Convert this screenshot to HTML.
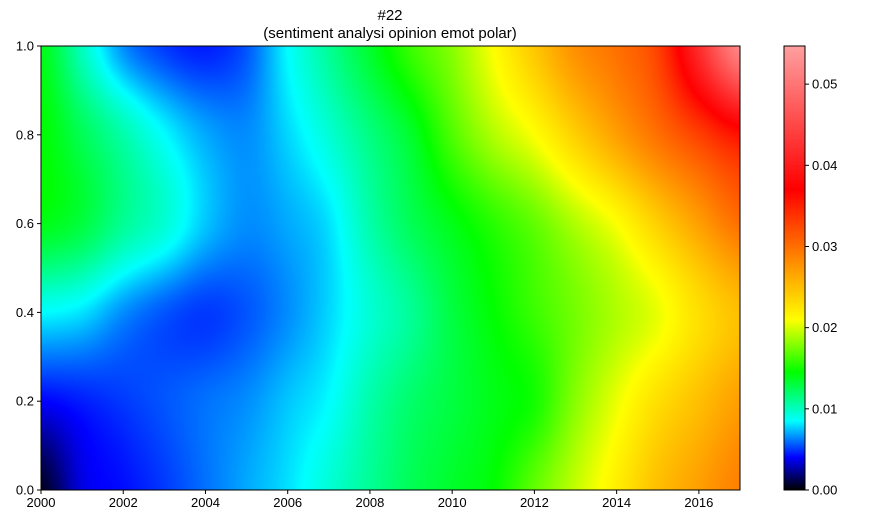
<!DOCTYPE html>
<html><head><meta charset="utf-8"><style>
body{margin:0;background:#fff;font-family:"Liberation Sans",sans-serif}
#wrap{position:relative;width:869px;height:527px}
canvas{position:absolute}
svg{position:absolute;left:0;top:0}
text{font-family:"Liberation Sans",sans-serif;font-size:13px;fill:#000}
</style></head><body>
<div id="wrap">
<canvas id="hm" width="699" height="444" style="left:41px;top:46px"></canvas>
<canvas id="cb" width="21" height="444" style="left:784px;top:46px"></canvas>
<svg id="ov" width="869" height="527"></svg>
</div>
<script>
const years=[2000,2001,2002,2003,2004,2005,2006,2007,2008,2009,2010,2011,2012,2013,2014,2015,2016,2017];
const yLevels=[1.0,0.8,0.6,0.4,0.2,0.0];
const row10=[0.014,0.010,0.0065,0.005,0.0045,0.0055,0.0085,0.011,0.0135,0.016,0.018,0.021,0.0245,0.028,0.030,0.033,0.042,0.052];
const row08=[0.0145,0.0125,0.0105,0.0085,0.007,0.0065,0.0078,0.0095,0.0115,0.0135,0.0165,0.019,0.021,0.024,0.027,0.030,0.033,0.036];
const row06=[0.014,0.013,0.011,0.0095,0.0075,0.0065,0.007,0.008,0.0105,0.0125,0.014,0.0155,0.017,0.019,0.021,0.024,0.027,0.030];
const row04=[0.0085,0.008,0.0065,0.0055,0.005,0.0055,0.0065,0.0078,0.0095,0.011,0.013,0.0145,0.016,0.0175,0.019,0.0205,0.023,0.025];
const row02=[0.004,0.0045,0.005,0.0055,0.006,0.0065,0.0075,0.0085,0.0105,0.012,0.013,0.014,0.015,0.018,0.0205,0.023,0.025,0.027];
const row00=[0.0005,0.0035,0.0042,0.005,0.006,0.007,0.008,0.0095,0.011,0.0125,0.0135,0.0145,0.017,0.0195,0.022,0.025,0.027,0.029];
const rows=[row10,row08,row06,row04,row02,row00];
const xTicks=[2000,2002,2004,2006,2008,2010,2012,2014,2016];
const yTicks=[0.0,0.2,0.4,0.6,0.8,1.0];
const cbTicks=[0.00,0.01,0.02,0.03,0.04,0.05];
const vmin=0, vmax=0.0547;
const stops=[[0,0,0,0],[0.004,0,0,255],[0.0085,0,255,255],[0.0145,0,255,0],[0.021,255,255,0],[0.037,255,0,0],[0.0547,255,160,160]];
function cmap(v){
  if(v<=stops[0][0])return stops[0].slice(1);
  for(let i=1;i<stops.length;i++){if(v<=stops[i][0]){const a=stops[i-1],b=stops[i],t=(v-a[0])/(b[0]-a[0]);return [a[1]+(b[1]-a[1])*t,a[2]+(b[2]-a[2])*t,a[3]+(b[3]-a[3])*t];}}
  return stops[stops.length-1].slice(1);
}
const L=41,T=46,W=699,H=444;
const xs=v=>L+(v-2000)/17*W, ys=v=>T+H-(v)*H;
function cr(p0,p1,p2,p3,t){return 0.5*((2*p1)+(-p0+p2)*t+(2*p0-5*p1+4*p2-p3)*t*t+(-p0+3*p1-3*p2+p3)*t*t*t);}
function interp1(arr,f){const n=arr.length;let i=Math.min(Math.floor(f),n-2);const t=f-i;
 const g=k=>arr[Math.max(0,Math.min(n-1,k))];return cr(g(i-1),g(i),g(i+1),g(i+2),t);}
const hm=document.getElementById('hm').getContext('2d');
const img=hm.createImageData(W,H);
const colCache=[];
for(let px=0;px<W;px++){const fx=(px+0.5)/W*(years.length-1);colCache.push(rows.map(r=>interp1(r,fx)));}
for(let py=0;py<H;py++){const fy=(py+0.5)/H*(yLevels.length-1);
 for(let px=0;px<W;px++){const c=cmap(interp1(colCache[px],fy));const k=(py*W+px)*4;
  img.data[k]=c[0];img.data[k+1]=c[1];img.data[k+2]=c[2];img.data[k+3]=255;}}
hm.putImageData(img,0,0);
const cb=document.getElementById('cb').getContext('2d');
for(let py=0;py<H;py++){const c=cmap(vmax*(1-(py+0.5)/H));cb.fillStyle=`rgb(${c[0]|0},${c[1]|0},${c[2]|0})`;cb.fillRect(0,py,21,1);}
const svg=document.getElementById('ov');const NS='http://www.w3.org/2000/svg';
function el(t,a,txt){const e=document.createElementNS(NS,t);for(const k in a)e.setAttribute(k,a[k]);if(txt!==undefined)e.textContent=txt;svg.appendChild(e);return e;}
let e=el('rect',{x:L,y:T,width:W,height:H,fill:'none',stroke:'#000','stroke-width':1});

e=el('rect',{x:784,y:T,width:21,height:H,fill:'none',stroke:'#000','stroke-width':1});

xTicks.forEach(v=>{const x=xs(v);el('line',{x1:x,x2:x,y1:T+H,y2:T+H+4,stroke:'#000'});
 e=el('text',{x:x,y:T+H+17,'text-anchor':'middle'},String(v));
 });
yTicks.forEach(v=>{const y=ys(v);el('line',{x1:L-4,x2:L,y1:y,y2:y,stroke:'#000'});
 e=el('text',{x:L-7,y:y+4.5,'text-anchor':'end'},v.toFixed(1));
 });
cbTicks.forEach(v=>{const y=T+H-v/vmax*H;el('line',{x1:805,x2:809,y1:y,y2:y,stroke:'#000'});
 e=el('text',{x:812,y:y+4.5},v.toFixed(2));
 });
e=el('text',{x:390,y:20,'text-anchor':'middle',style:'font-size:15px'},'#22');

e=el('text',{x:390,y:38,'text-anchor':'middle',style:'font-size:15px'},'(sentiment analysi opinion emot polar)');

</script>
</body></html>
